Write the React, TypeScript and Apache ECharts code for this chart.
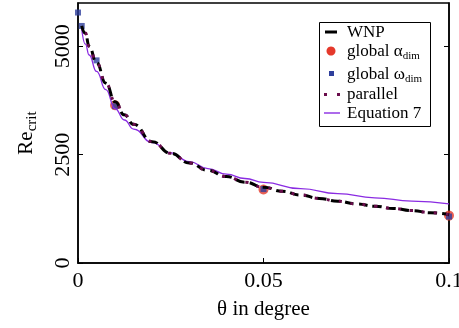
import React, { useEffect, useRef } from "react";
import * as echarts from "echarts";

const FONT = "Liberation Serif";

// θ (degree) and Re_crit values
const wnpTheta = [0.001, 0.002, 0.003, 0.005, 0.0075, 0.01, 0.0125, 0.015, 0.02, 0.025, 0.03, 0.035, 0.04, 0.045, 0.05, 0.055, 0.06, 0.065, 0.07, 0.075, 0.08, 0.085, 0.09, 0.095, 0.1];
const wnpRe = [5470, 5300, 5000, 4620, 4150, 3720, 3420, 3200, 2800, 2530, 2310, 2140, 1995, 1865, 1750, 1655, 1570, 1490, 1425, 1365, 1310, 1258, 1210, 1160, 1115];

const parallelTheta = [0.001, 0.002, 0.003, 0.005, 0.0075, 0.01, 0.0125, 0.015, 0.02, 0.025, 0.03, 0.035, 0.04, 0.045, 0.05, 0.055, 0.06, 0.065, 0.07, 0.075, 0.08, 0.085, 0.09, 0.095, 0.1];
const parallelRe = [5480, 5310, 5000, 4620, 4150, 3720, 3420, 3200, 2800, 2530, 2310, 2140, 1995, 1865, 1750, 1655, 1570, 1490, 1425, 1365, 1310, 1258, 1210, 1160, 1115];

const eq7Theta = [0.001, 0.002, 0.003, 0.005, 0.0075, 0.01, 0.0125, 0.015, 0.02, 0.025, 0.03, 0.035, 0.04, 0.045, 0.05, 0.06, 0.07, 0.08, 0.09, 0.1];
const eq7Re = [5400, 5050, 4800, 4420, 4000, 3560, 3300, 3090, 2780, 2540, 2340, 2180, 2050, 1950, 1860, 1715, 1600, 1505, 1430, 1362];

const alphaTheta = [0.01, 0.05, 0.1];
const alphaRe = [3640, 1697, 1095];

const omegaTheta = [0, 0.001, 0.005, 0.01, 0.05, 0.1];
const omegaRe = [5780, 5470, 4676, 3618, 1706, 1072];

const yTickValues = [0, 2500, 5000];

const zip = (xs: number[], ys: number[]) => xs.map((x, i) => [x, ys[i]]);

const RED = "#e5392b";
const BLUE = "#2e3f9c";
const PURPLE = "#8a2be2";
const MAROON = "#6a0d4c";

function legendText(t: string, y: number) {
  return {
    type: "text",
    x: 347,
    y,
    z: 101,
    style: {
      text: t,
      fill: "#000",
      fontSize: 17,
      fontFamily: FONT,
      rich: {
        a: { fontSize: 17, fontFamily: FONT },
        b: { fontSize: 11, fontFamily: FONT, padding: [9, 0, 0, 0] },
      },
    },
  };
}

export default function App() {
  const ref = useRef<HTMLDivElement>(null);
  useEffect(() => {
    if (!ref.current) return;
    const chart = echarts.init(ref.current, undefined, { renderer: "svg" });
    chart.setOption({
      animation: false,
      grid: {
        left: 78,
        right: 10,
        top: 3,
        bottom: 65,
        show: true,
        borderColor: "#000",
        borderWidth: 1.5,
        outerBoundsMode: "none",
      },
      xAxis: {
        type: "value",
        min: 0,
        max: 0.1,
        interval: 0.05,
        axisLine: { show: true, onZero: false, lineStyle: { color: "#000", width: 1.5 } },
        axisTick: { show: true, inside: true, length: 5, lineStyle: { color: "#000" } },
        axisLabel: { color: "#000", fontSize: 22, fontFamily: FONT, margin: 5 },
        splitLine: { show: false },
        name: "θ in degree",
        nameLocation: "middle",
        nameGap: 34,
        nameTextStyle: { color: "#000", fontSize: 21, fontFamily: FONT },
      },
      yAxis: [
        {
          type: "value",
          min: 0,
          max: 6000,
          axisLine: { show: true, onZero: false, lineStyle: { color: "#000", width: 1.5 } },
          axisTick: { show: true, inside: true, length: 5, customValues: yTickValues, lineStyle: { color: "#000" } },
          axisLabel: {
            color: "#000",
            fontSize: 22,
            fontFamily: FONT,
            margin: 6,
            rotate: 90,
            customValues: yTickValues,
            formatter: (v: number) => String(v),
          },
          splitLine: { show: false },
          name: "{a|Re}{b|crit}",
          nameLocation: "middle",
          nameRotate: 90,
          nameGap: 40,
          nameTextStyle: {
            color: "#000",
            fontSize: 21,
            fontFamily: FONT,
            rich: {
              a: { fontSize: 21, fontFamily: FONT, color: "#000" },
              b: { fontSize: 15, fontFamily: FONT, color: "#000", padding: [12, 0, 0, 0] },
            },
          },
        },
        {
          type: "value",
          position: "right",
          min: 0,
          max: 6000,
          axisLine: { show: true, onZero: false, lineStyle: { color: "#000", width: 1.5 } },
          axisTick: { show: true, inside: true, length: 5, customValues: yTickValues, lineStyle: { color: "#000" } },
          axisLabel: { show: false },
          splitLine: { show: false },
        },
      ],
      series: [
        {
          type: "line",
          data: zip(eq7Theta, eq7Re),
          smooth: true,
          smoothMonotone: "x",
          showSymbol: false,
          lineStyle: { color: PURPLE, width: 1.3 },
        },
        {
          type: "line",
          data: zip(wnpTheta, wnpRe),
          smooth: true,
          smoothMonotone: "x",
          showSymbol: false,
          lineStyle: { color: "#000", width: 3, type: [9, 5] },
        },
        {
          type: "line",
          data: zip(parallelTheta, parallelRe),
          smooth: true,
          smoothMonotone: "x",
          showSymbol: false,
          lineStyle: { color: MAROON, width: 3, type: [3, 9], dashOffset: 4 },
        },
        {
          type: "scatter",
          data: zip(alphaTheta, alphaRe),
          symbolSize: 10,
          itemStyle: { color: RED },
        },
        {
          type: "scatter",
          data: zip(omegaTheta, omegaRe),
          symbol: "rect",
          symbolSize: 6,
          itemStyle: { color: BLUE },
        },
      ],
      graphic: [
        {
          type: "rect",
          z: 100,
          shape: { x: 319.5, y: 22.5, width: 111, height: 104 },
          style: { fill: "#fff", stroke: "#000", lineWidth: 1 },
        },
        { type: "rect", z: 101, shape: { x: 325, y: 30.5, width: 12, height: 3 }, style: { fill: "#000" } },
        { type: "circle", z: 101, shape: { cx: 331, cy: 51, r: 4.5 }, style: { fill: RED } },
        { type: "rect", z: 101, shape: { x: 329, y: 71, width: 5, height: 5 }, style: { fill: BLUE } },
        { type: "rect", z: 101, shape: { x: 324, y: 93, width: 3, height: 3 }, style: { fill: MAROON } },
        { type: "rect", z: 101, shape: { x: 337, y: 93, width: 3, height: 3 }, style: { fill: MAROON } },
        { type: "rect", z: 101, shape: { x: 324, y: 112.3, width: 16, height: 1.4 }, style: { fill: PURPLE } },
        legendText("WNP", 23),
        legendText("{a|global α}{b|dim}", 40),
        legendText("{a|global ω}{b|dim}", 63),
        legendText("parallel", 85),
        legendText("Equation 7", 104),
      ],
    });
    return () => chart.dispose();
  }, []);
  return <div ref={ref} style={{ position: "fixed", left: 0, top: 0, width: 459, height: 328 }} />;
}
